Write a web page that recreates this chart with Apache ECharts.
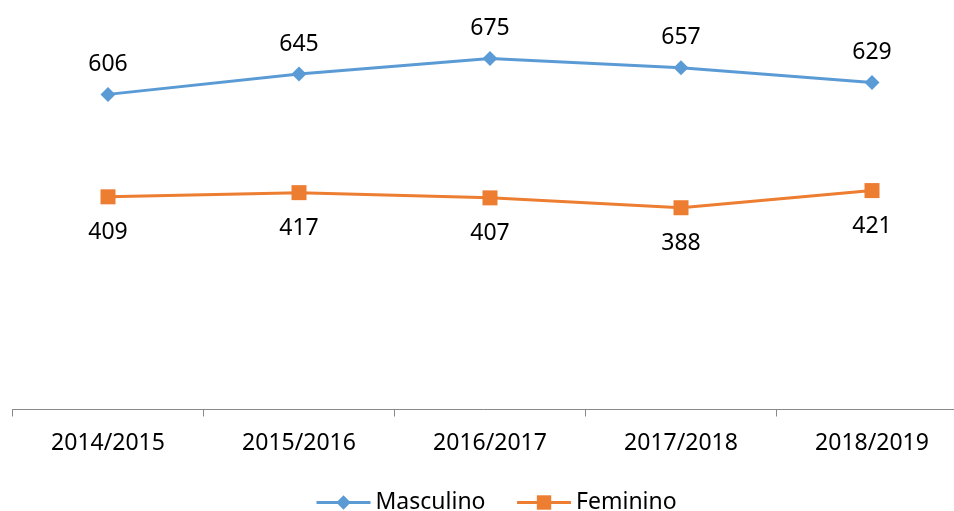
<!DOCTYPE html>
<html>
<head>
<meta charset="utf-8">
<script src="https://cdn.jsdelivr.net/npm/echarts@6/dist/echarts.min.js"></script>
<style>
  html, body { margin: 0; padding: 0; background: #fff; }
  #chart { width: 954px; height: 511px; }
</style>
</head>
<body>
<div id="chart"></div>
<script>
// data
const categories = ["2014/2015", "2015/2016", "2016/2017", "2017/2018", "2018/2019"];
const masculino = [606, 645, 675, 657, 629];
const feminino = [409, 417, 407, 388, 421];

const FONT = "Noto Sans";
const myChart = echarts.init(document.getElementById("chart"));

const option = {
  backgroundColor: "#fff",
  animation: false,
  textStyle: { fontFamily: FONT },
  grid: { left: 12.5, top: 45.5, width: 955, height: 364, outerBoundsMode: "none", containLabel: false },
  legend: {
    left: 315,
    top: 491,
    padding: 0,
    itemWidth: 54,
    itemHeight: 18,
    itemGap: 30,
    lineStyle: { width: 3 },
    textStyle: { fontFamily: FONT, fontSize: 23, color: "#000" },
    data: ["Masculino", "Feminino"],
  },
  xAxis: {
    type: "category",
    data: categories,
    boundaryGap: true,
    axisLine: { lineStyle: { color: "#898989", width: 1 } },
    axisTick: { show: true, length: 7, lineStyle: { color: "#898989" } },
    axisLabel: { fontFamily: FONT, fontSize: 23, color: "#000", margin: 22 },
  },
  yAxis: {
    type: "value",
    min: 0,
    max: 700,
    show: false,
    splitLine: { show: false },
  },
  series: [
    {
      name: "Masculino",
      type: "line",
      data: masculino,
      symbol: "diamond",
      symbolSize: 15,
      color: "#5B9BD5",
      lineStyle: { width: 3, color: "#5B9BD5" },
      itemStyle: { color: "#5B9BD5" },
      label: {
        show: true,
        position: "top",
        distance: 11,
        fontFamily: FONT,
        fontSize: 23,
        color: "#000",
      },
    },
    {
      name: "Feminino",
      type: "line",
      data: feminino,
      symbol: "rect",
      symbolSize: 15,
      color: "#ED7D31",
      lineStyle: { width: 3, color: "#ED7D31" },
      itemStyle: { color: "#ED7D31" },
      label: {
        show: true,
        position: "bottom",
        distance: 17,
        fontFamily: FONT,
        fontSize: 23,
        color: "#000",
      },
    },
  ],
};

myChart.setOption(option);
</script>
</body>
</html>
